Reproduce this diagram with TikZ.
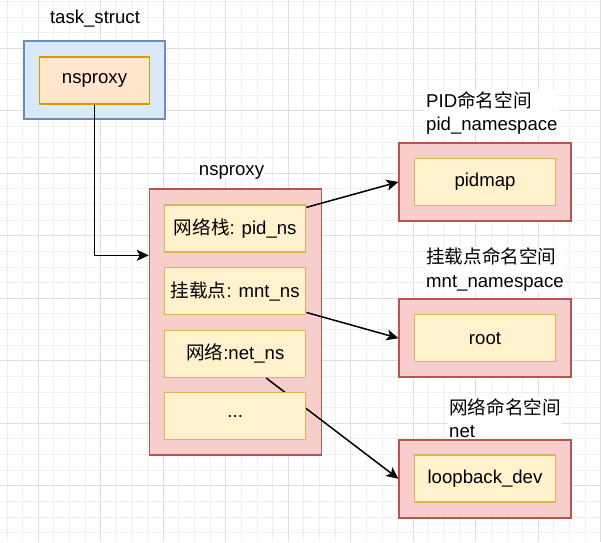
\documentclass[tikz,border=0pt]{standalone}
\usepackage{fontspec}
\setmainfont{Liberation Sans}
\newfontfamily\cjk{Noto Sans CJK SC}
\usetikzlibrary{arrows.meta,calc}

\definecolor{bluefill}{HTML}{DAE8FC}
\definecolor{blueline}{HTML}{6C8EBF}
\definecolor{orangefill}{HTML}{FFE6CC}
\definecolor{orangeline}{HTML}{D79B00}
\definecolor{redfill}{HTML}{F8CECC}
\definecolor{redline}{HTML}{B85450}
\definecolor{yellowfill}{HTML}{FFF2CC}
\definecolor{yellowline}{HTML}{D6B656}

\tikzset{
  txt/.style={font=\fontsize{18.6}{23.5}\selectfont},
  box/.style={txt, draw, line width=1.5pt, inner sep=0pt},
  bluebox/.style={box, draw=blueline, fill=bluefill, minimum width=141pt, minimum height=78pt},
  orangebox/.style={box, draw=orangeline, fill=orangefill, minimum width=110pt, minimum height=47pt},
  redbox/.style={box, draw=redline, fill=redfill, minimum width=172pt, minimum height=78pt},
  itembox/.style={box, draw=yellowline, fill=yellowfill, minimum width=141pt, minimum height=47pt},
  lbl/.style={txt, fill=white, inner sep=1pt, align=left},
  link/.style={line width=1.5pt, -{Stealth[length=12pt,width=11pt,inset=3pt]}},
  gridminor/.style={line width=1pt, black!6},
  gridmajor/.style={line width=1pt, black!13}
}

\begin{document}
\begin{tikzpicture}[x=1pt, y=-1pt]
  \useasboundingbox (0,0) rectangle (601,542);

  % background grid
  \foreach \i in {0,...,38} {
    \draw[gridminor] ({7.05+15.625*\i},0) -- ++(0,542);
    \draw[gridminor] (0,{1.45+15.625*\i}) -- ++(601,0);
  }
  \foreach \i in {0,...,9} {
    \draw[gridmajor] ({38.3+62.5*\i},0) -- ++(0,542);
    \draw[gridmajor] (0,{48.3+62.5*\i}) -- ++(601,0);
  }

  % task_struct
  \node[txt] (tasklbl) at (95,19) {task\_struct};
  \node[bluebox] (task) at (94.5,80) {};
  \node[orangebox] (nsp) at (94.5,80.3) {nsproxy};

  % nsproxy
  \node[lbl] (nsplbl) at (231.5,172) {nsproxy};
  \node[box, draw=redline, fill=redfill, minimum width=172pt, minimum height=266pt] (proxy) at (235.5,322.2) {};
  \node[itembox] (pidns) at (235.2,228.6) {{\cjk 网络栈}: pid\_ns};
  \node[itembox] (mntns) at (235.2,291.2) {{\cjk 挂载点}: mnt\_ns};
  \node[itembox] (netns) at (235.2,353.8) {{\cjk 网络}:net\_ns};

  % namespaces
  \node[lbl, anchor=west] (pidlbl) at (425,112.8) {PID{\cjk 命名空间}\\pid\_namespace};
  \node[redbox] (pid) at (485.2,181.9) {};
  \node[itembox] (pidmap) at (485,182) {pidmap};

  \node[lbl, anchor=west] (mntlbl) at (425,269.5) {{\cjk 挂载点命名空间}\\mnt\_namespace};
  \node[redbox] (mnt) at (485.2,338.2) {};
  \node[itembox] (root) at (485,338.2) {root};

  \node[lbl, anchor=west] (netlbl) at (448,418) {{\cjk 网络命名空间}\\net};
  \node[redbox] (net) at (485.2,478.8) {};
  \node[itembox] (lo) at (485,478.7) {loopback\_dev};

  % links
  \draw[link] (nsp.south) |- ($(proxy.north west)!0.25!(proxy.south west)$);
  \draw[link] ([yshift=-3pt]pidns.north east) -- (pid.west);
  \draw[link] ([yshift=3pt]mntns.south east) -- (mnt.west);
  \draw[link] ([xshift=31pt]netns.south) -- (net.west);

  % drawn over the net link
  \node[itembox] (more) at (235.2,416) {...};
\end{tikzpicture}
\end{document}
